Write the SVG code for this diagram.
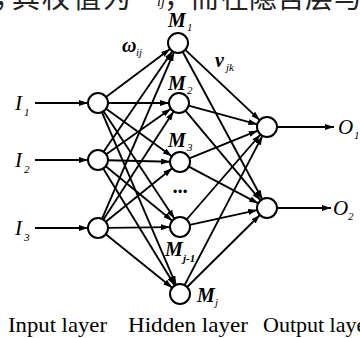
<svg xmlns="http://www.w3.org/2000/svg" width="360" height="338" viewBox="0 0 360 338">
<style>
.node{fill:#fff;stroke:#000;stroke-width:2}
.ln{stroke:#000;stroke-width:1.9;fill:none}
.arr{marker-end:url(#ah)}
.lab{font-family:"Liberation Serif","Times New Roman",serif;font-style:italic;fill:#000}
.m{font-weight:bold;font-size:20px}
.sub{font-size:11px}
.cap{font-family:"Liberation Serif","Times New Roman",serif;font-size:22px;fill:#000}
.cjk{font-family:"Noto Sans CJK SC","Noto Sans CJK JP",sans-serif;font-size:28px;fill:#222}
</style>
<defs>
<marker id="ah" markerUnits="userSpaceOnUse" markerWidth="10" markerHeight="6" refX="9" refY="3" orient="auto">
<path d="M0,0 L9,3 L0,6 z" fill="#000"/>
</marker>
</defs>
<g id="header-text">
<text class="cjk" y="8" x="-6 12 42 73 103">，其权值为</text>
<text class="lab" x="143" y="0" style="font-size:24px">ω</text>
<text class="lab" x="157" y="6" style="font-size:14px">ij</text>
<text class="cjk" y="8" x="164 191 221 249 277 305 334">，而在隐含层与</text>
</g>
<g id="connectors">
<line class="ln arr" x1="35" y1="103" x2="88" y2="103"/>
<line class="ln arr" x1="35" y1="160" x2="88" y2="160"/>
<line class="ln arr" x1="35" y1="228" x2="88" y2="228"/>
<line class="ln arr" x1="106" y1="97" x2="170" y2="49"/>
<line class="ln arr" x1="108" y1="103" x2="169" y2="103"/>
<line class="ln arr" x1="106.1" y1="108.8" x2="171.9" y2="156.2"/>
<line class="ln arr" x1="103.5" y1="111.3" x2="174.5" y2="218.7"/>
<line class="ln arr" x1="101.9" y1="112.2" x2="176.1" y2="284.8"/>
<line class="ln arr" x1="103.6" y1="151.7" x2="172.4" y2="51.3"/>
<line class="ln arr" x1="106.2" y1="154.2" x2="170.8" y2="108.8"/>
<line class="ln arr" x1="108" y1="160.2" x2="170" y2="161.8"/>
<line class="ln arr" x1="105.7" y1="166.3" x2="172.3" y2="220.7"/>
<line class="ln arr" x1="103.2" y1="168.5" x2="174.8" y2="285.5"/>
<line class="ln arr" x1="102" y1="218.8" x2="174" y2="52.2"/>
<line class="ln arr" x1="103.4" y1="219.6" x2="173.6" y2="111.4"/>
<line class="ln arr" x1="105.8" y1="221.7" x2="172.2" y2="168.3"/>
<line class="ln arr" x1="108" y1="227.9" x2="170" y2="227.1"/>
<line class="ln arr" x1="105.8" y1="234.3" x2="172.2" y2="287.7"/>
<line class="ln arr" x1="185.3" y1="49.9" x2="259.7" y2="120.1"/>
<line class="ln arr" x1="182.7" y1="51.8" x2="262.3" y2="199.2"/>
<line class="ln arr" x1="188.6" y1="105.6" x2="257.4" y2="124.4"/>
<line class="ln arr" x1="185.4" y1="110.7" x2="260.6" y2="200.3"/>
<line class="ln arr" x1="189.3" y1="158.3" x2="257.7" y2="130.7"/>
<line class="ln arr" x1="188.8" y1="166.7" x2="258.2" y2="203.3"/>
<line class="ln arr" x1="186.6" y1="219.5" x2="260.4" y2="134.5"/>
<line class="ln arr" x1="189.8" y1="224.9" x2="257.2" y2="210.1"/>
<line class="ln arr" x1="184.6" y1="285.1" x2="262.4" y2="135.9"/>
<line class="ln arr" x1="187.1" y1="287" x2="259.9" y2="215"/>
<line class="ln arr" x1="277" y1="127" x2="334" y2="127"/>
<line class="ln arr" x1="277" y1="208" x2="331" y2="208"/>
</g>
<g id="in1"><circle class="node" cx="98" cy="103" r="10"/><text class="lab" x="15" y="110" font-size="21">I</text><text class="lab sub" x="24" y="116">1</text></g>
<g id="in2"><circle class="node" cx="98" cy="160" r="10"/><text class="lab" x="15" y="167" font-size="21">I</text><text class="lab sub" x="24" y="173">2</text></g>
<g id="in3"><circle class="node" cx="98" cy="228" r="10"/><text class="lab" x="15" y="235" font-size="21">I</text><text class="lab sub" x="24" y="241">3</text></g>
<g id="h1"><circle class="node" cx="178" cy="43" r="10"/><text class="lab m" x="168" y="27">M</text><text class="lab sub" x="187" y="31">1</text></g>
<g id="h2"><circle class="node" cx="179" cy="103" r="10"/><text class="lab m" x="168" y="90">M</text><text class="lab sub" x="187" y="94">2</text></g>
<g id="h3"><circle class="node" cx="180" cy="162" r="10"/><text class="lab m" x="168" y="147">M</text><text class="lab sub" x="187" y="151">3</text></g>
<g id="dots"><text class="lab" x="180" y="198" font-size="20" text-anchor="middle" font-style="normal" font-weight="bold">···</text></g>
<g id="h4"><circle class="node" cx="180" cy="227" r="10"/><text class="lab m" x="165" y="256">M</text><text class="lab sub" x="183" y="262" font-style="normal" font-weight="bold">j-1</text></g>
<g id="h5"><circle class="node" cx="180" cy="294" r="10"/><text class="lab m" x="197" y="302">M</text><text class="lab sub" x="215" y="306">j</text></g>
<g id="o1"><circle class="node" cx="267" cy="127" r="10"/><text class="lab" x="338" y="134" font-size="21">O</text><text class="lab sub" x="354" y="139">1</text></g>
<g id="o2"><circle class="node" cx="267" cy="208" r="10"/><text class="lab" x="333" y="215" font-size="21">O</text><text class="lab sub" x="348" y="220">2</text></g>
<g id="weights">
<text class="lab" x="122" y="52" font-size="20" font-weight="bold">ω</text><text class="lab sub" x="136" y="56" font-size="9">ij</text>
<text class="lab" x="215" y="67" font-size="20" font-weight="bold">ν</text><text class="lab sub" x="226" y="71" font-size="9">jk</text>
</g>
<g id="captions">
<text class="cap" x="8" y="332" textLength="99" lengthAdjust="spacingAndGlyphs">Input layer</text>
<text class="cap" x="128" y="332" textLength="120" lengthAdjust="spacingAndGlyphs">Hidden layer</text>
<text class="cap" x="263" y="332">Output layer</text>
</g>
</svg>
